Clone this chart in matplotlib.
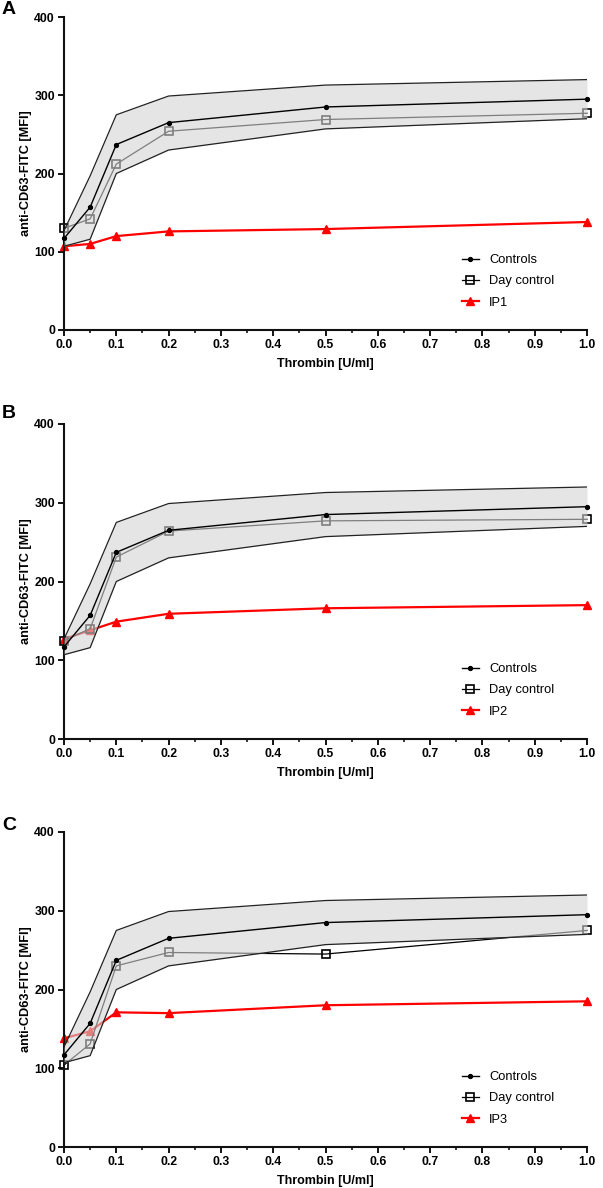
import matplotlib
matplotlib.use("Agg")
import matplotlib.pyplot as plt
from matplotlib.ticker import MultipleLocator

thrombin = [0.0, 0.05, 0.1, 0.2, 0.5, 1.0]
controls_mean = [117, 157, 237, 265, 285, 295]
controls_upper = [127, 197, 275, 299, 313, 320]
controls_lower = [107, 116, 200, 230, 257, 270]

day_control_A = [130, 142, 212, 254, 269, 277]
day_control_B = [125, 140, 231, 264, 277, 279]
day_control_C = [104, 131, 230, 247, 245, 275]

ip1 = [107, 110, 120, 126, 129, 138]
ip2 = [127, 138, 149, 159, 166, 170]
ip3 = [138, 147, 171, 170, 180, 185]

panel_letters = ["A", "B", "C"]
patient_names = ["IP1", "IP2", "IP3"]
day_controls = [day_control_A, day_control_B, day_control_C]
patients = [ip1, ip2, ip3]

plt.rcParams['font.family'] = ['Liberation Sans', 'DejaVu Sans']
W, H = 603, 1188
fig = plt.figure(figsize=(W / 100, H / 100), dpi=100)

# pixel boxes: (top, bottom, letter_y)
boxes = [(17, 330, 10), (424, 739, 413), (832, 1147, 825)]
left_px, right_px = 64, 587

for i, (top, bot, ly) in enumerate(boxes):
    hpx = bot - top
    ax = fig.add_axes([left_px / W, 1 - bot / H, (right_px - left_px) / W, hpx / H])
    ax.set_xlim(0, 1.0)
    ax.set_ylim(0, 400)

    # patient & day control below band
    ax.plot(thrombin, patients[i], color='#ff0000', lw=1.6, marker='^', ms=5.5,
            label=patient_names[i], zorder=2, clip_on=False)
    ax.plot(thrombin, day_controls[i], color='black', lw=0.9, marker='s', ms=5.5,
            mfc='none', mec='black', mew=1.2, label='Day control', zorder=2, clip_on=False)

    # band fill on top with alpha
    ax.fill_between(thrombin, controls_lower, controls_upper, color='#d4d4d4', alpha=0.6,
                    lw=0, zorder=3)
    ax.plot(thrombin, controls_upper, color='#222222', lw=0.9, zorder=4)
    ax.plot(thrombin, controls_lower, color='#222222', lw=0.9, zorder=4)
    ax.plot(thrombin, controls_mean, color='black', lw=1.0, marker='o', ms=2.8,
            label='Controls', zorder=5, clip_on=False)

    for s in ['top', 'right']:
        ax.spines[s].set_visible(False)
    for s in ['left', 'bottom']:
        ax.spines[s].set_linewidth(1.5)
        ax.spines[s].set_color('#111111')

    ax.xaxis.set_minor_locator(MultipleLocator(0.05))
    ax.yaxis.set_major_locator(MultipleLocator(100))
    ax.set_xticks([round(0.1 * k, 1) for k in range(11)])
    ax.set_xticklabels([f"{0.1 * k:.1f}" for k in range(11)])
    ax.tick_params(axis='both', which='major', length=4.5, width=1.3, labelsize=8.8, pad=2)
    ax.tick_params(axis='x', which='minor', length=2.5, width=1.1)
    for lab in ax.get_xticklabels() + ax.get_yticklabels():
        lab.set_fontweight('bold')

    ax.set_xlabel('Thrombin [U/ml]', fontsize=9, fontweight='bold', labelpad=5)
    ax.set_ylabel('anti-CD63-FITC [MFI]', fontsize=9.2, fontweight='bold', labelpad=2)

    handles, labels = ax.get_legend_handles_labels()
    order = [labels.index('Controls'), labels.index('Day control'), labels.index(patient_names[i])]
    ax.legend([handles[k] for k in order], [labels[k] for k in order],
              loc='upper left', bbox_to_anchor=((462 - left_px) / (right_px - left_px), 76 / hpx),
              frameon=False, borderaxespad=0, borderpad=0,
              fontsize=9.3, handlelength=1.3, handletextpad=0.8, labelspacing=0.72)

    fig.text(2 / W, 1 - ly / H, panel_letters[i], fontsize=14, fontweight='bold',
             ha='left', va='center')

fig.savefig('out.png', dpi=100)
